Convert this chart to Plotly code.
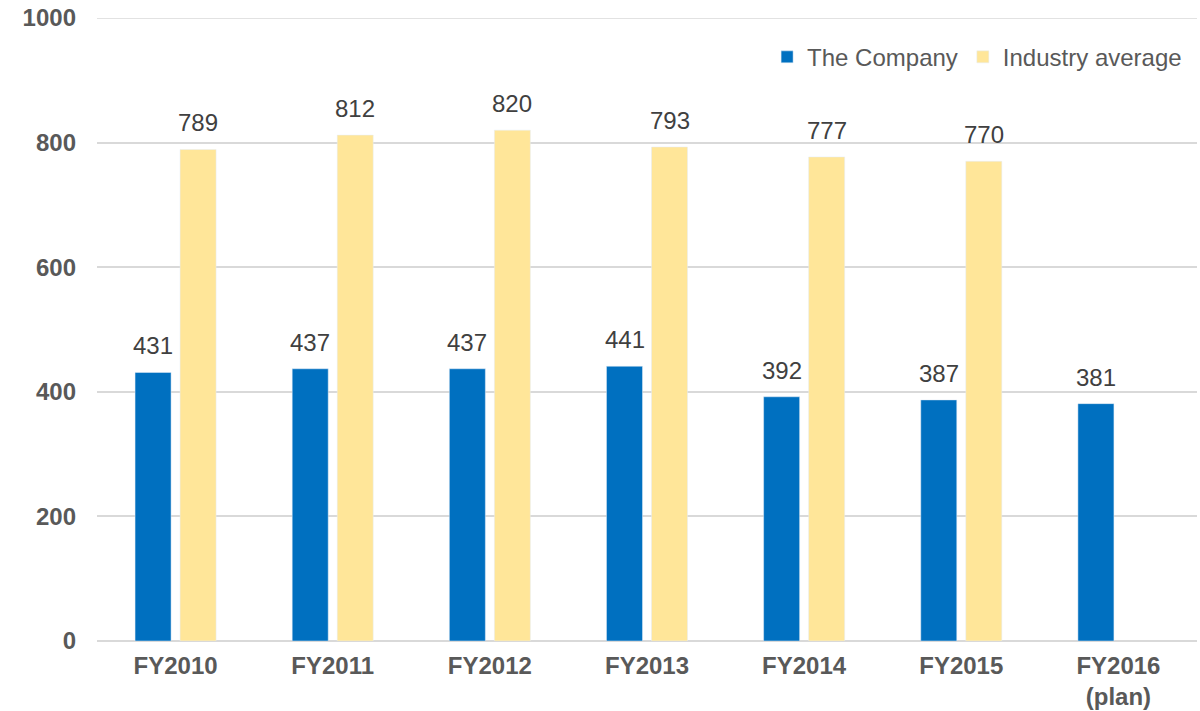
import plotly.graph_objects as go

categories = ["FY2010", "FY2011", "FY2012", "FY2013", "FY2014", "FY2015", "FY2016<br>(plan)"]
company = [431, 437, 437, 441, 392, 387, 381]
industry = [789, 812, 820, 793, 777, 770, None]
y_ticks = [0, 200, 400, 600, 800, 1000]

FONT = "Liberation Sans, Arial, sans-serif"
BLUE = "#0070C0"
YELLOW = "#FFE699"
GRID = "#D9D9D9"

fig = go.Figure()
fig.add_trace(go.Bar(name="The Company", x=categories, y=company, marker_color=BLUE))
fig.add_trace(go.Bar(name="Industry average", x=categories, y=industry, marker_color=YELLOW))

annotations = []
for series, shift in ((company, -22.5), (industry, 22.5)):
    for cat, v in zip(categories, series):
        if v is None:
            continue
        annotations.append(dict(
            x=cat, y=v, xref="x", yref="y", text=str(v), showarrow=False,
            xanchor="center", yanchor="bottom", xshift=shift, yshift=11,
            font=dict(size=24, color="#404040", family=FONT),
        ))

fig.update_layout(
    width=1200, height=711,
    margin=dict(l=97, r=3, t=18, b=70, autoexpand=False),
    paper_bgcolor="white", plot_bgcolor="white",
    barmode="group", bargap=0.427, bargroupgap=0.2,
    font=dict(family=FONT, color="#595959"),
    legend=dict(orientation="h", x=0.991, xanchor="right", y=0.937, yanchor="middle",
                font=dict(size=24, color="#595959", family=FONT),
                bgcolor="rgba(0,0,0,0)", itemwidth=30, traceorder="normal"),
    showlegend=True,
    annotations=annotations,
    shapes=[dict(type="line", xref="paper", yref="y", x0=0, x1=1,
                 y0=y_ticks[-1], y1=y_ticks[-1], layer="below",
                 line=dict(color=GRID, width=1.5))],
)
fig.update_yaxes(
    range=[0, 1000], tickvals=y_ticks, ticktext=[str(v) for v in y_ticks],
    showgrid=True, gridcolor=GRID, gridwidth=1.5,
    zeroline=True, zerolinecolor=GRID, zerolinewidth=2,
    tickfont=dict(size=24, color="#595959", family=FONT, weight="bold"),
    showline=False, ticks="", ticklabelstandoff=20, ticklabeloverflow="allow",
    automargin=False,
)
fig.update_xaxes(
    showline=False, ticks="", showgrid=False,
    tickfont=dict(size=24, color="#595959", family=FONT, weight="bold"),
    ticklabelstandoff=8, ticklabeloverflow="allow", automargin=False,
)

fig.write_html(
    "out.html",
    config={"displayModeBar": False},
    post_script="document.body.style.margin='0';document.body.style.overflow='hidden';",
)
